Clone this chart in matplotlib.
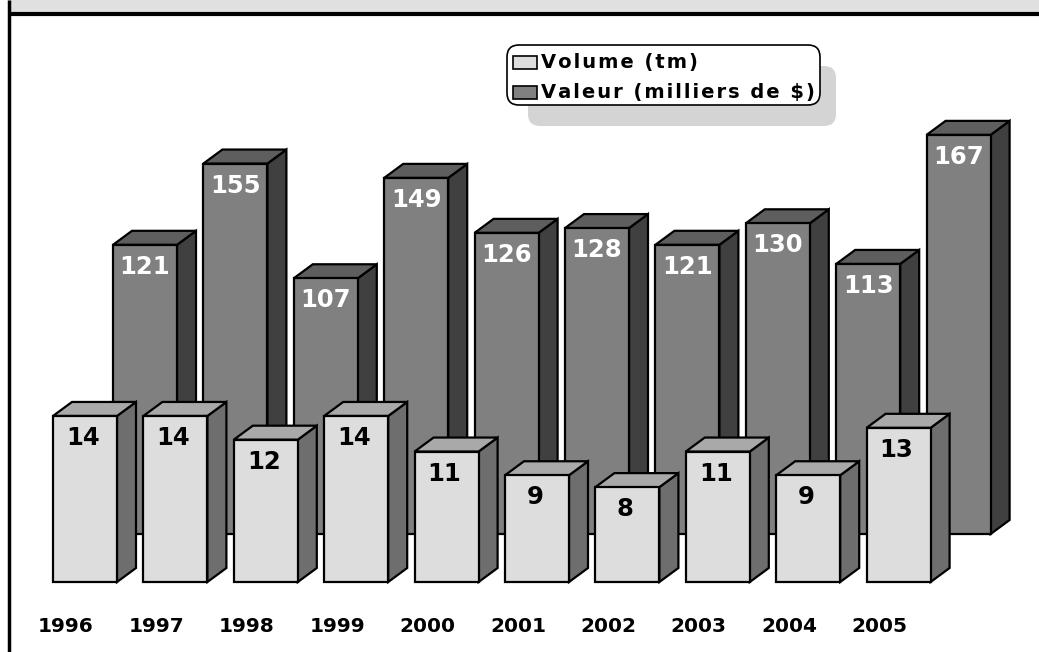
import numpy as np
import matplotlib
matplotlib.use("Agg")
import matplotlib.pyplot as plt
from matplotlib.patches import Rectangle, Polygon, FancyBboxPatch

years = ['1996', '1997', '1998', '1999', '2000', '2001', '2002', '2003', '2004', '2005']
volume = [14, 14, 12, 14, 11, 9, 8, 11, 9, 13]
valeur = [121, 155, 107, 149, 126, 128, 121, 130, 113, 167]

W, H = 1039, 652
# the original uses a wide bold sans; DejaVu Sans Bold has similar proportions
plt.rcParams['font.family'] = ['DejaVu Sans']

fig = plt.figure(figsize=(W / 100, H / 100), dpi=100)
fig.patch.set_facecolor('white')

# x: one unit per year slot (~90 px), 0 = centre of first front bar
slot_px = 90.4
x0 = -85 / slot_px
xlim = (x0, x0 + W / slot_px)
bar_w = 64 / slot_px
back_shift = 60 / slot_px
depth_x = 19 / slot_px
depth_px = 14


def spaced(s):
    return '\u200a'.join(s)


def setup(ax, base_px, px_per_unit):
    bottom = -(H - base_px) / px_per_unit
    ax.set_xlim(*xlim)
    ax.set_ylim(bottom, bottom + H / px_per_unit)
    ax.axis('off')
    ax.patch.set_visible(False)


def bar3d(ax, xl, v, dy, c_front, c_side, c_top):
    kw = dict(edgecolor='black', linewidth=1.6, joinstyle='miter')
    xr = xl + bar_w
    ax.add_patch(Polygon([(xr, 0), (xr + depth_x, dy), (xr + depth_x, v + dy), (xr, v)],
                         facecolor=c_side, **kw))
    ax.add_patch(Polygon([(xl, v), (xl + depth_x, v + dy), (xr + depth_x, v + dy), (xr, v)],
                         facecolor=c_top, **kw))
    ax.add_patch(Rectangle((xl, 0), bar_w, v, facecolor=c_front, **kw))


# back row: valeur
ax_back = fig.add_axes([0, 0, 1, 1])
back_scale = 2.39
setup(ax_back, 534, back_scale)
for i, v in enumerate(valeur):
    xl = i - bar_w / 2 + back_shift
    bar3d(ax_back, xl, v, depth_px / back_scale, '#808080', '#404040', '#5e5e5e')
    ax_back.text(xl + bar_w / 2, v - 22 / back_scale, str(v), color='white',
                 fontsize=17.5, fontweight='bold', ha='center', va='center')

# front row: volume
ax_front = fig.add_axes([0, 0, 1, 1])
front_scale = 11.86
setup(ax_front, 582, front_scale)
for i, v in enumerate(volume):
    xl = i - bar_w / 2
    bar3d(ax_front, xl, v, depth_px / front_scale, '#dddddd', '#6e6e6e', '#a9a9a9')
    ax_front.text(xl + bar_w / 2 - 2 / slot_px, v - 22 / front_scale, str(v),
                  color='black', fontsize=17.5, fontweight='bold', ha='center', va='center')

for i, y in enumerate(years):
    ax_front.text(i - 19 / slot_px, -(627 - 582) / front_scale, y, color='black',
                  fontsize=14.5, fontweight='bold', ha='center', va='center')

# overlay in pixel space: frame, title strip, legend
ov = fig.add_axes([0, 0, 1, 1])
ov.set_xlim(0, W)
ov.set_ylim(H, 0)
ov.axis('off')
ov.patch.set_visible(False)

ov.add_patch(Rectangle((8, 0), W - 8, 13, facecolor='#e0e0e0', edgecolor='none'))
ov.plot([8, W], [13.5, 13.5], color='black', linewidth=3, solid_capstyle='butt')
ov.plot([9, 9], [0, H], color='black', linewidth=2.5, solid_capstyle='butt')

# legend with shadow
ov.add_patch(FancyBboxPatch((528, 66), 308, 60, boxstyle='round,pad=0,rounding_size=12',
                            facecolor='#d4d4d4', edgecolor='none'))
ov.add_patch(FancyBboxPatch((507, 45), 313, 60, boxstyle='round,pad=0,rounding_size=12',
                            facecolor='white', edgecolor='black', linewidth=1.2))
legend_items = [('Volume (tm)', '#dddddd'), ('Valeur (milliers de $)', '#808080')]
for k, (lab, col) in enumerate(legend_items):
    yc = 62.5 + k * 30
    ov.add_patch(Rectangle((513, yc - 6.5), 24, 13, facecolor=col, edgecolor='black', linewidth=1.2))
    ov.text(541, yc, spaced(lab), fontsize=14, fontweight='bold', ha='left', va='center')

fig.savefig('out.png', dpi=100)
